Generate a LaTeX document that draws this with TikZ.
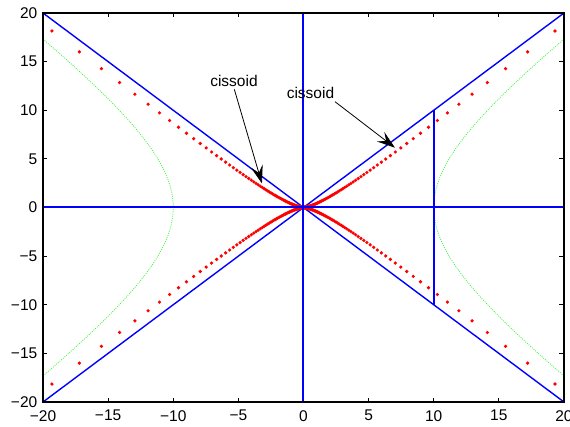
\documentclass[tikz,border=0pt]{standalone}
\usepackage{fontspec}
\setmainfont{Liberation Sans}
\usetikzlibrary{arrows.meta}
\definecolor{mblue}{rgb}{0,0,1}
\definecolor{mred}{rgb}{1,0,0}
\definecolor{mgreen}{rgb}{0.3,0.95,0.3}
\begin{document}
\begin{tikzpicture}[x=13.025pt,y=9.725pt,
  lbl/.style={font=\fontsize{15.5}{18}\selectfont, inner sep=0pt},
  blueline/.style={draw=mblue, line width=1.4pt},
  bluebar/.style={fill=mblue},
  reddot/.style={fill=mred},
  hyp/.style={draw=mgreen, line width=0.8pt, dash pattern=on 1pt off 1.2pt},
  annarrow/.style={draw=black, line width=0.8pt, -{Stealth[length=18pt,width=12pt,inset=7pt]}},
  tick/.style={draw=black, line width=1pt}
]
\useasboundingbox (-23.30,-22.468) rectangle (20.461,21.337);
% corners
\coordinate (bl) at (-20,-20);
\coordinate (tr) at (20,20);
\coordinate (tl) at (-20,20);
\coordinate (br) at (20,-20);
\coordinate (ytop) at (0,20);
\coordinate (ybot) at (0,-20);
\coordinate (xleft) at (-20,0);
\coordinate (xright) at (20,0);
\coordinate (s10a) at (10,10);
\coordinate (s10b) at (10,-10);
% ticks
\foreach \v in {-20,-15,...,20}{
  \draw[tick] (\v,-20) -- ++(0,4.5pt);
  \draw[tick] (\v,20) -- ++(0,-4.5pt);
  \draw[tick] (-20,\v) -- ++(4.5pt,0);
  \draw[tick] (20,\v) -- ++(-4.5pt,0);
}
% tick labels
\foreach \v/\t in {-20/{−20},-15/{−15},-10/{−10},-5/{−5},0/0,5/5,10/10,15/15,20/20}{
  \node[lbl, anchor=north] (xl\v) at ([yshift=-8pt]\v,-20) {\t};
  \node[lbl, anchor=east] (yl\v) at ([xshift=-5.5pt]-20,\v) {\t};
}
% blue diagonals
\draw[blueline] (bl) -- (tr);
\draw[blueline] (tl) -- (br);
% hyperbola
\draw[hyp] plot[domain=-1.3170:1.3170, samples=90] ({10*cosh(\x)},{10*sinh(\x)});
\draw[hyp] plot[domain=-1.3170:1.3170, samples=90] ({-10*cosh(\x)},{10*sinh(\x)});
% cissoid dots
\foreach \i in {-94,...,94}{
  \pgfmathsetmacro\xx{10*(1/sqrt(1-(\i/100)^2)-1)}
  \pgfmathsetmacro\yy{\i/100*\xx}
  \pgfmathsetmacro\nx{-\xx}
  \pgfmathsetmacro\ny{-\yy}
  \fill[reddot] (\xx,\yy) circle[radius=1.8pt];
  \fill[reddot] (\nx,\ny) circle[radius=1.8pt];
}
% axis lines and segment (as thin filled bars)
\fill[bluebar] ([yshift=-0.9pt]xleft) rectangle ([yshift=1.1pt]xright);
\fill[bluebar] ([xshift=-1pt]ybot) rectangle ([xshift=1pt]ytop);
\fill[bluebar] ([xshift=-1.2pt]s10b) rectangle ([xshift=1.2pt]s10a);
% box
\draw[line width=1.8pt] (bl) rectangle (tr);
% annotations
\node[lbl] (c1) at (-5.336,13.03) {cissoid};
\node[lbl] (c2) at (0.537,11.74) {cissoid};
\coordinate (s1) at (-5.31,12.15);
\coordinate (t1) at (-3.19,2.47);
\coordinate (s2) at (2.42,10.88);
\coordinate (t2) at (7.02,6.15);
\draw[annarrow] (s1) -- (t1);
\draw[annarrow] (s2) -- (t2);
\end{tikzpicture}
\end{document}
